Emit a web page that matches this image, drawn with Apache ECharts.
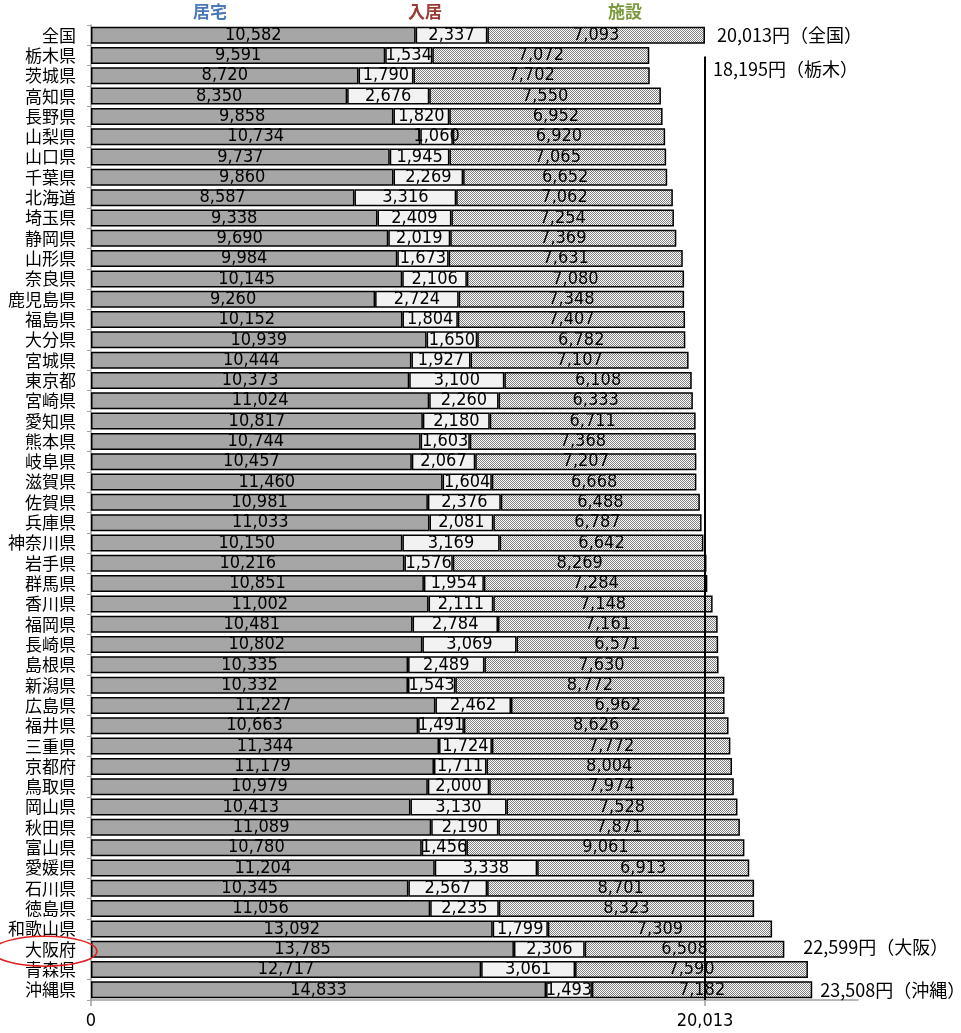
<!DOCTYPE html>
<html><head><meta charset="utf-8">
<script src="https://cdn.jsdelivr.net/npm/echarts@6.0.0/dist/echarts.min.js"></script>
<style>html,body{margin:0;padding:0;background:#fff}#c{width:961px;height:1033px}</style>
</head><body><div id="c"></div>
<script>
const categories = ['全国','栃木県','茨城県','高知県','長野県','山梨県','山口県','千葉県','北海道','埼玉県','静岡県','山形県','奈良県','鹿児島県','福島県','大分県','宮城県','東京都','宮崎県','愛知県','熊本県','岐阜県','滋賀県','佐賀県','兵庫県','神奈川県','岩手県','群馬県','香川県','福岡県','長崎県','島根県','新潟県','広島県','福井県','三重県','京都府','鳥取県','岡山県','秋田県','富山県','愛媛県','石川県','徳島県','和歌山県','大阪府','青森県','沖縄県'];
const kyotaku = [10582,9591,8720,8350,9858,10734,9737,9860,8587,9338,9690,9984,10145,9260,10152,10939,10444,10373,11024,10817,10744,10457,11460,10981,11033,10150,10216,10851,11002,10481,10802,10335,10332,11227,10663,11344,11179,10979,10413,11089,10780,11204,10345,11056,13092,13785,12717,14833];
const nyukyo = [2337,1534,1790,2676,1820,1060,1945,2269,3316,2409,2019,1673,2106,2724,1804,1650,1927,3100,2260,2180,1603,2067,1604,2376,2081,3169,1576,1954,2111,2784,3069,2489,1543,2462,1491,1724,1711,2000,3130,2190,1456,3338,2567,2235,1799,2306,3061,1493];
const shisetsu = [7093,7072,7702,7550,6952,6920,7065,6652,7062,7254,7369,7631,7080,7348,7407,6782,7107,6108,6333,6711,7368,7207,6668,6488,6787,6642,8269,7284,7148,7161,6571,7630,8772,6962,8626,7772,8004,7974,7528,7871,9061,6913,8701,8323,7309,6508,7590,7182];
const seriesNames = ['居宅','入居','施設'];
const xTicks = [0, 20013];
const refValue = 20013;
const noteCats = ['全国','栃木県','大阪府','沖縄県'];
const noteValues = [20013, 18195, 22599, 23508];
const noteTexts = ['20,013円（全国）','18,195円（栃木）','22,599円（大阪）','23,508円（沖縄）'];

(function () {
const fmt = v => Number(v).toLocaleString('en-US');
const pc = document.createElement('canvas'); pc.width = 2; pc.height = 2;
const g = pc.getContext('2d');
g.fillStyle = '#ffffff'; g.fillRect(0,0,2,2);
g.fillStyle = '#808080'; g.fillRect(0,0,1,1); g.fillRect(1,1,1,1);

const numFont = '"Liberation Sans Narrow","DejaVu Sans Condensed","Noto Sans CJK JP",sans-serif';
const jpFont = '"Noto Sans CJK JP",sans-serif';
function mk(name, data, color) {
  return {
    name, type: 'bar', stack: 'total', data, barWidth: 17,
    itemStyle: { color, borderColor: '#000', borderWidth: 1.5 },
    label: { show: true, position: 'inside', formatter: p => fmt(p.value), color: '#000', fontSize: 18, fontFamily: numFont },
    emphasis: { disabled: true }
  };
}
const chart = echarts.init(document.getElementById('c'), null, { renderer: 'canvas' });
chart.setOption({
  animation: false,
  backgroundColor: '#fff',
  grid: { left: 91, right: 103, top: 25, bottom: 33, containLabel: false },
  xAxis: {
    type: 'value', min: 0, max: 25000,
    splitLine: { show: false },
    axisLine: { show: true, lineStyle: { color: '#a0a0a0', width: 1.5 } },
    axisTick: { show: true, customValues: xTicks, length: 6, lineStyle: { color: '#a0a0a0', width: 1.5 } },
    axisLabel: { customValues: xTicks, formatter: v => fmt(v), fontSize: 18, color: '#000', margin: 12, fontFamily: numFont }
  },
  yAxis: {
    type: 'category', inverse: true, data: categories,
    axisLine: { show: true, lineStyle: { color: '#a0a0a0', width: 1.5 } },
    axisTick: { show: true, length: 4, interval: 0, lineStyle: { color: '#a0a0a0' } },
    axisLabel: { interval: 0, fontSize: 17, lineHeight: 20, color: '#000', margin: 15, fontFamily: jpFont }
  },
  series: [
    mk(seriesNames[0], kyotaku, '#a6a6a6'),
    mk(seriesNames[1], nyukyo, '#f2f2f2'),
    mk(seriesNames[2], shisetsu, { image: pc, repeat: 'repeat' })
  ]
});

const P = (v, cat) => chart.convertToPixel({ gridIndex: 0 }, [v, categories.indexOf(cat)]);
const band = P(0, categories[1])[1] - P(0, categories[0])[1];
const lineTop = P(refValue, '栃木県');
const bottomY = P(0, categories[categories.length - 1])[1] + band / 2;
const graphics = [];
graphics.push({ type: 'line', z: 100, shape: { x1: lineTop[0], y1: lineTop[1] + 1, x2: lineTop[0], y2: bottomY }, style: { stroke: '#000', lineWidth: 2 } });
const noteOffsets = [[12, 0], [8, 14], [19, -2], [8, 0]];
noteCats.forEach((c, i) => {
  const base = i < 2 ? P(refValue, c) : P(noteValues[i], c);
  graphics.push({ type: 'text', z: 100, x: base[0] + noteOffsets[i][0], y: base[1] + noteOffsets[i][1],
    style: { text: noteTexts[i], fill: '#000', font: '18px "Noto Sans CJK JP",sans-serif', verticalAlign: 'middle', align: 'left' } });
});
const heads = [[210, '#4a78b8'], [425, '#9c3a36'], [625, '#7a9a3c']];
seriesNames.forEach((n, i) => {
  graphics.push({ type: 'text', z: 100, x: heads[i][0], y: 12,
    style: { text: n, fill: heads[i][1], font: 'bold 17px "Noto Sans CJK JP",sans-serif', align: 'center', verticalAlign: 'middle' } });
});
const osaka = P(0, '大阪府');
graphics.push({ type: 'ellipse', z: 100, shape: { cx: 45, cy: osaka[1] + 2, rx: 52, ry: 15 }, style: { fill: 'none', stroke: '#e02020', lineWidth: 1.5 } });
chart.setOption({ graphic: graphics });
})();
</script></body></html>
